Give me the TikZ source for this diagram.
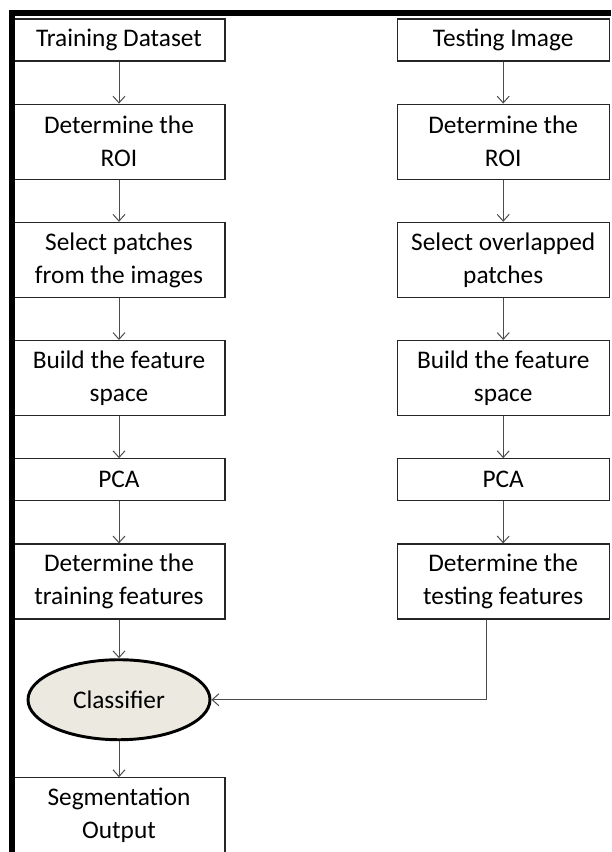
\documentclass[tikz,border=0pt]{standalone}
\usepackage{fontspec}
\setmainfont{Carlito}
\usepackage{tikz}
\usetikzlibrary{positioning,arrows.meta,shapes.geometric}
\definecolor{clsfill}{HTML}{ECEAE0}

\begin{document}
\begin{tikzpicture}[auto,node distance=31.5pt]
  \tikzstyle{stepbox} = [draw=black!85, line width=0.9pt, fill=white, align=center, minimum width=159pt, minimum height=31.5pt, inner sep=2pt, font=\fontsize{19}{24.75}\selectfont]
  \tikzstyle{tallbox} = [stepbox, minimum height=56.25pt]
  \tikzstyle{classify} = [ellipse, draw=black, line width=2.2pt, fill=clsfill, minimum width=136.5pt, minimum height=60pt, inner sep=0pt, font=\fontsize{19}{24.75}\selectfont]
  \tikzstyle{flow} = [draw=black!70, line width=0.75pt, -{Straight Barb[length=5pt,width=9pt]}]
  \useasboundingbox (-89.25pt,30pt) rectangle (369pt,-609pt);
  % training side
  \node[stepbox] (train) {Training Dataset};
  \node[tallbox, below=of train] (roiL) {Determine the\\ROI};
  \node[tallbox, below=of roiL] (patchL) {Select patches\\from the images};
  \node[tallbox, below=of patchL] (spaceL) {Build the feature\\space};
  \node[stepbox, below=of spaceL] (pcaL) {PCA};
  \node[tallbox, below=of pcaL] (featL) {Determine the\\training features};
  \node[classify, below=29pt of featL] (cls) {Classifier};
  \node[tallbox, below=27pt of cls] (seg) {Segmentation\\Output};
  % testing side
  \node[stepbox, right=128.25pt of train] (test) {Testing Image};
  \node[tallbox, below=of test] (roiR) {Determine the\\ROI};
  \node[tallbox, below=of roiR] (patchR) {Select overlapped\\patches};
  \node[tallbox, below=of patchR] (spaceR) {Build the feature\\space};
  \node[stepbox, below=of spaceR] (pcaR) {PCA};
  \node[tallbox, below=of pcaR] (featR) {Determine the\\testing features};
  % arrows
  \foreach \a/\b in {train/roiL, roiL/patchL, patchL/spaceL, spaceL/pcaL, pcaL/featL, featL/cls, cls/seg,
                     test/roiR, roiR/patchR, patchR/spaceR, spaceR/pcaR, pcaR/featR}
    \draw[flow] (\a) -- (\b);
  \draw[flow] ([xshift=-12.75pt]featR.south) |- (cls.east);
  % frame
  \draw[line width=4.5pt] (369pt,20.25pt) -| (-79.9pt,-609pt);
\end{tikzpicture}
\end{document}
